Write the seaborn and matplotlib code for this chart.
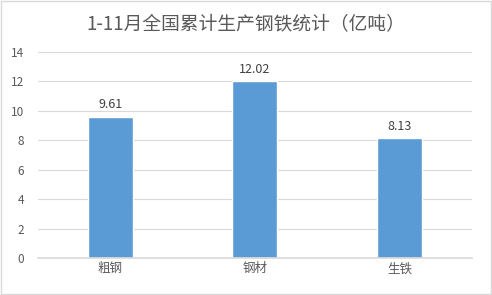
import matplotlib
matplotlib.use("Agg")
import matplotlib.pyplot as plt
import seaborn as sns
import pandas as pd

categories = ["粗钢", "钢材", "生铁"]
values = [9.61, 12.02, 8.13]
yticks = [0, 2, 4, 6, 8, 10, 12, 14]
title = "1-11月全国累计生产钢铁统计（亿吨）"

sns.set_theme(style="white")
plt.rcParams['font.family'] = ['Noto Sans CJK SC', 'DejaVu Sans']

df = pd.DataFrame({"cat": categories, "val": values})

fig = plt.figure(figsize=(4.92, 2.95), dpi=100)
ax = fig.add_axes([0.077, 0.125, 0.882, 0.699])
sns.barplot(data=df, x="cat", y="val", color="#5B9BD5", width=0.31, saturation=1, ax=ax)

ax.set_ylim(0, 14)
ax.set_yticks(yticks)
ax.set_xlim(-0.5, 2.5)
ax.grid(axis="y", color="#D9D9D9", linewidth=0.8)
ax.set_axisbelow(True)
for s in ["top", "right", "left"]:
    ax.spines[s].set_visible(False)
ax.spines["bottom"].set_color("#D9D9D9")
ax.tick_params(axis="y", length=0, labelsize=8.5, labelcolor="#595959", pad=10)
ax.tick_params(axis="x", length=0, labelsize=9, labelcolor="#595959", pad=3)
ax.set_xlabel("")
ax.set_ylabel("")

for i, v in enumerate(values):
    ax.text(i, v + 0.35, f"{v:.2f}", ha="center", va="bottom", fontsize=9, color="#404040")

fig.text(0.5, 0.918, title, ha="center", va="center", fontsize=13.5, color="#595959")

rect = plt.Rectangle((0.003, 0.003), 0.994, 0.994, transform=fig.transFigure,
                     fill=False, edgecolor="#D9D9D9", linewidth=1)
fig.patches.append(rect)

fig.savefig("out.png", dpi=100)
